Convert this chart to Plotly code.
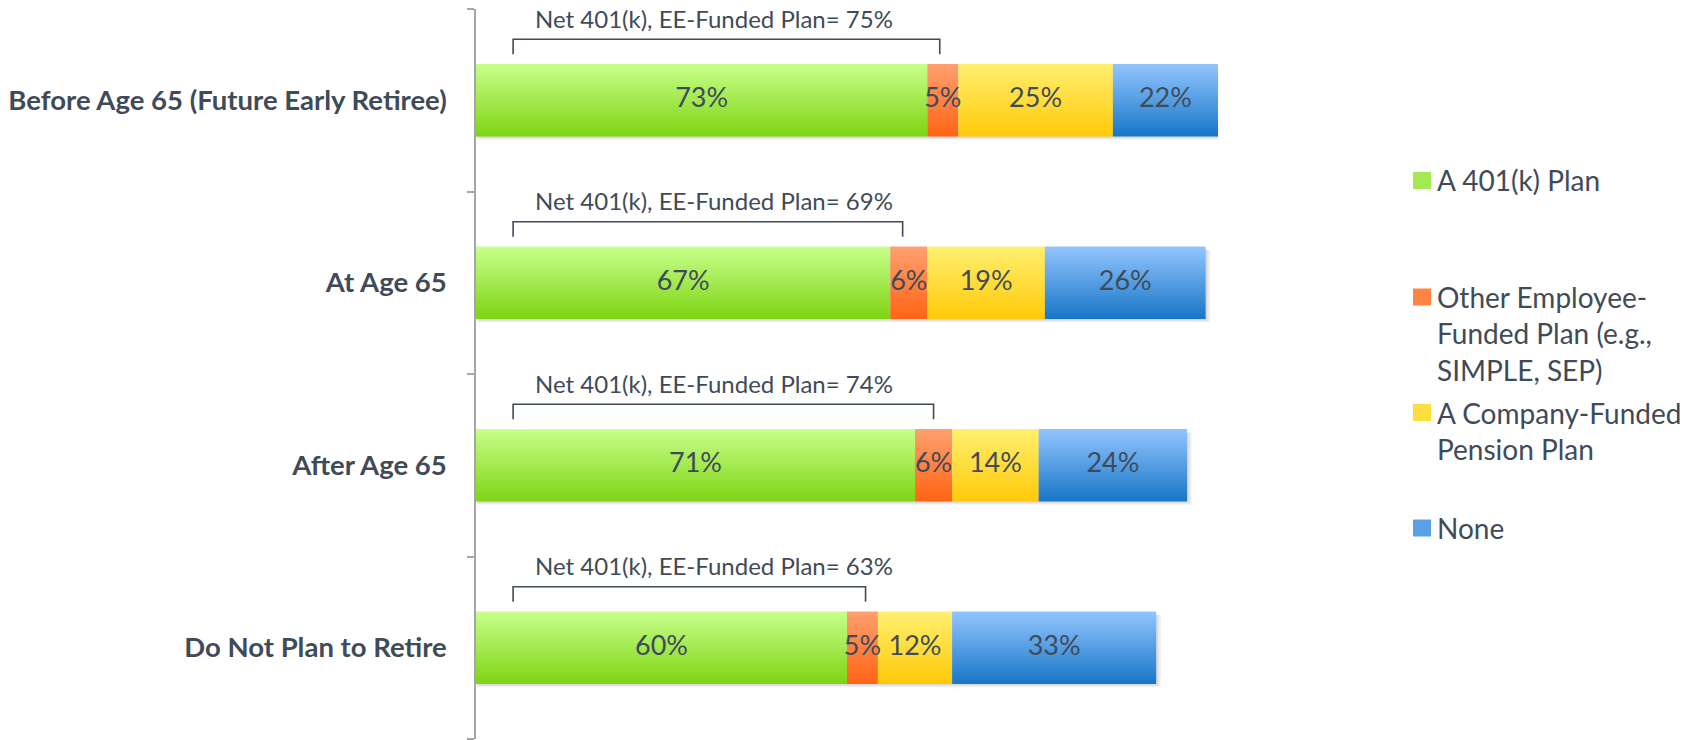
import plotly.graph_objects as go

# data (percent of respondents)
categories = ["Before Age 65 (Future Early Retiree)", "At Age 65", "After Age 65", "Do Not Plan to Retire"]
series_names = ["A 401(k) Plan", "Other Employee-<br>Funded Plan (e.g.,<br>SIMPLE, SEP)",
                "A Company-Funded<br>Pension Plan", "None"]
plan_401k = [73, 67, 71, 60]
other_ee = [5, 6, 6, 5]
company = [25, 19, 14, 12]
none_ = [22, 26, 24, 33]
net_401k_ee = [75, 69, 74, 63]

# gradient colours, [bottom, top]
grad = [
    ["#7ed412", "#c8ff8c"],
    ["#ff6414", "#ffa070"],
    ["#ffc908", "#fff070"],
    ["#1776c6", "#93c5ff"],
]
swatch = ["#a3ea52", "#ff8442", "#ffdd3c", "#5aa0e6"]

txt = "#3f4b58"
font = "Lato"
fs = 27
xmax = 120
half = 0.199  # half bar thickness in category units
bracket_start = 6

ypos = [3, 2, 1, 0]
values = [plan_401k, other_ee, company, none_]

fig = go.Figure()

# soft shadow under each bar
for i, y in enumerate(ypos):
    total = sum(v[i] for v in values)
    for k in range(3):
        d = 0.006 * (k + 1)
        fig.add_trace(go.Scatter(
            x=[0.2, total + 0.25 * (k + 1), total + 0.25 * (k + 1), 0.2, 0.2],
            y=[y - half - d, y - half - d, y + half - 0.02, y + half - 0.02, y - half - d],
            mode="lines", line=dict(width=0), fill="toself", fillcolor="rgba(0,0,0,0.05)",
            hoverinfo="skip", showlegend=False))

lab_x, lab_y, lab_t = [], [], []
for i, y in enumerate(ypos):
    left = 0
    for s, vals in enumerate(values):
        v = vals[i]
        right = left + v
        fig.add_trace(go.Scatter(
            x=[left, right, right, left, left],
            y=[y - half, y - half, y + half, y + half, y - half],
            mode="lines", line=dict(width=0), fill="toself",
            fillgradient=dict(type="vertical", colorscale=[[0, grad[s][0]], [1, grad[s][1]]]),
            hoverinfo="skip", showlegend=False))
        lab_x.append((left + min(right, xmax)) / 2)
        lab_y.append(y)
        lab_t.append(f"{v}%")
        left = right

fig.add_trace(go.Scatter(x=lab_x, y=lab_y, text=lab_t, mode="text",
                         textfont=dict(family=font, size=fs, color=txt),
                         hoverinfo="skip", showlegend=False, cliponaxis=False))

# brackets for the net 401(k) / EE-funded value
bx, by = [], []
for i, y in enumerate(ypos):
    bx += [bracket_start, bracket_start, net_401k_ee[i], net_401k_ee[i], None]
    by += [y + 0.252, y + 0.334, y + 0.334, y + 0.252, None]
    fig.add_annotation(x=9.2, y=y + 0.449, xref="x", yref="y", xanchor="left", yanchor="middle",
                       text=f"Net 401(k), EE-Funded Plan= {net_401k_ee[i]}%", showarrow=False,
                       font=dict(family=font, size=24, color=txt))
fig.add_trace(go.Scatter(x=bx, y=by, mode="lines", line=dict(color=txt, width=1.6),
                         hoverinfo="skip", showlegend=False))

# legend drawn by hand: plot area pixels
L, R, T, B = 476, 1218, 9, 739
def px(x):
    return (x - L) / (R - L)
def py(y):
    return (B - y) / (B - T)

leg_y = [180.5, 297, 412.5, 528]
for s, name in enumerate(series_names):
    yc = leg_y[s]
    fig.add_shape(type="rect", xref="paper", yref="paper",
                  x0=px(1413), x1=px(1431), y0=py(yc + 8.5), y1=py(yc - 8.5),
                  line=dict(width=0), fillcolor=swatch[s])
    fig.add_annotation(x=px(1435), y=py(yc - 19), xref="paper", yref="paper",
                       xanchor="left", yanchor="top", align="left", text=name, showarrow=False,
                       font=dict(family=font, size=28, color=txt))

fig.update_layout(
    width=1689, height=740,
    margin=dict(l=L, r=1689 - R, t=T, b=740 - B),
    paper_bgcolor="white", plot_bgcolor="white",
    xaxis=dict(range=[0, xmax], visible=False, fixedrange=True, automargin=False),
    yaxis=dict(range=[-0.5, 3.5], tickvals=ypos, ticktext=[f"<b>{c}</b>" for c in categories],
               ticks="", showline=True, linecolor="#a6a6a6", linewidth=1.5, showgrid=False,
               zeroline=False, automargin=False, tickfont=dict(family=font, size=27.5, color=txt),
               ticklabelstandoff=22,
               minor=dict(tickmode="array", tickvals=[-0.5, 0.5, 1.5, 2.5, 3.5], ticks="outside",
                          ticklen=7, tickwidth=1.5, tickcolor="#a6a6a6", showgrid=False)),
)

fig.write_html("out.html", config={"displayModeBar": False},
               post_script="document.body.style.margin='0';document.body.style.overflow='hidden';")
